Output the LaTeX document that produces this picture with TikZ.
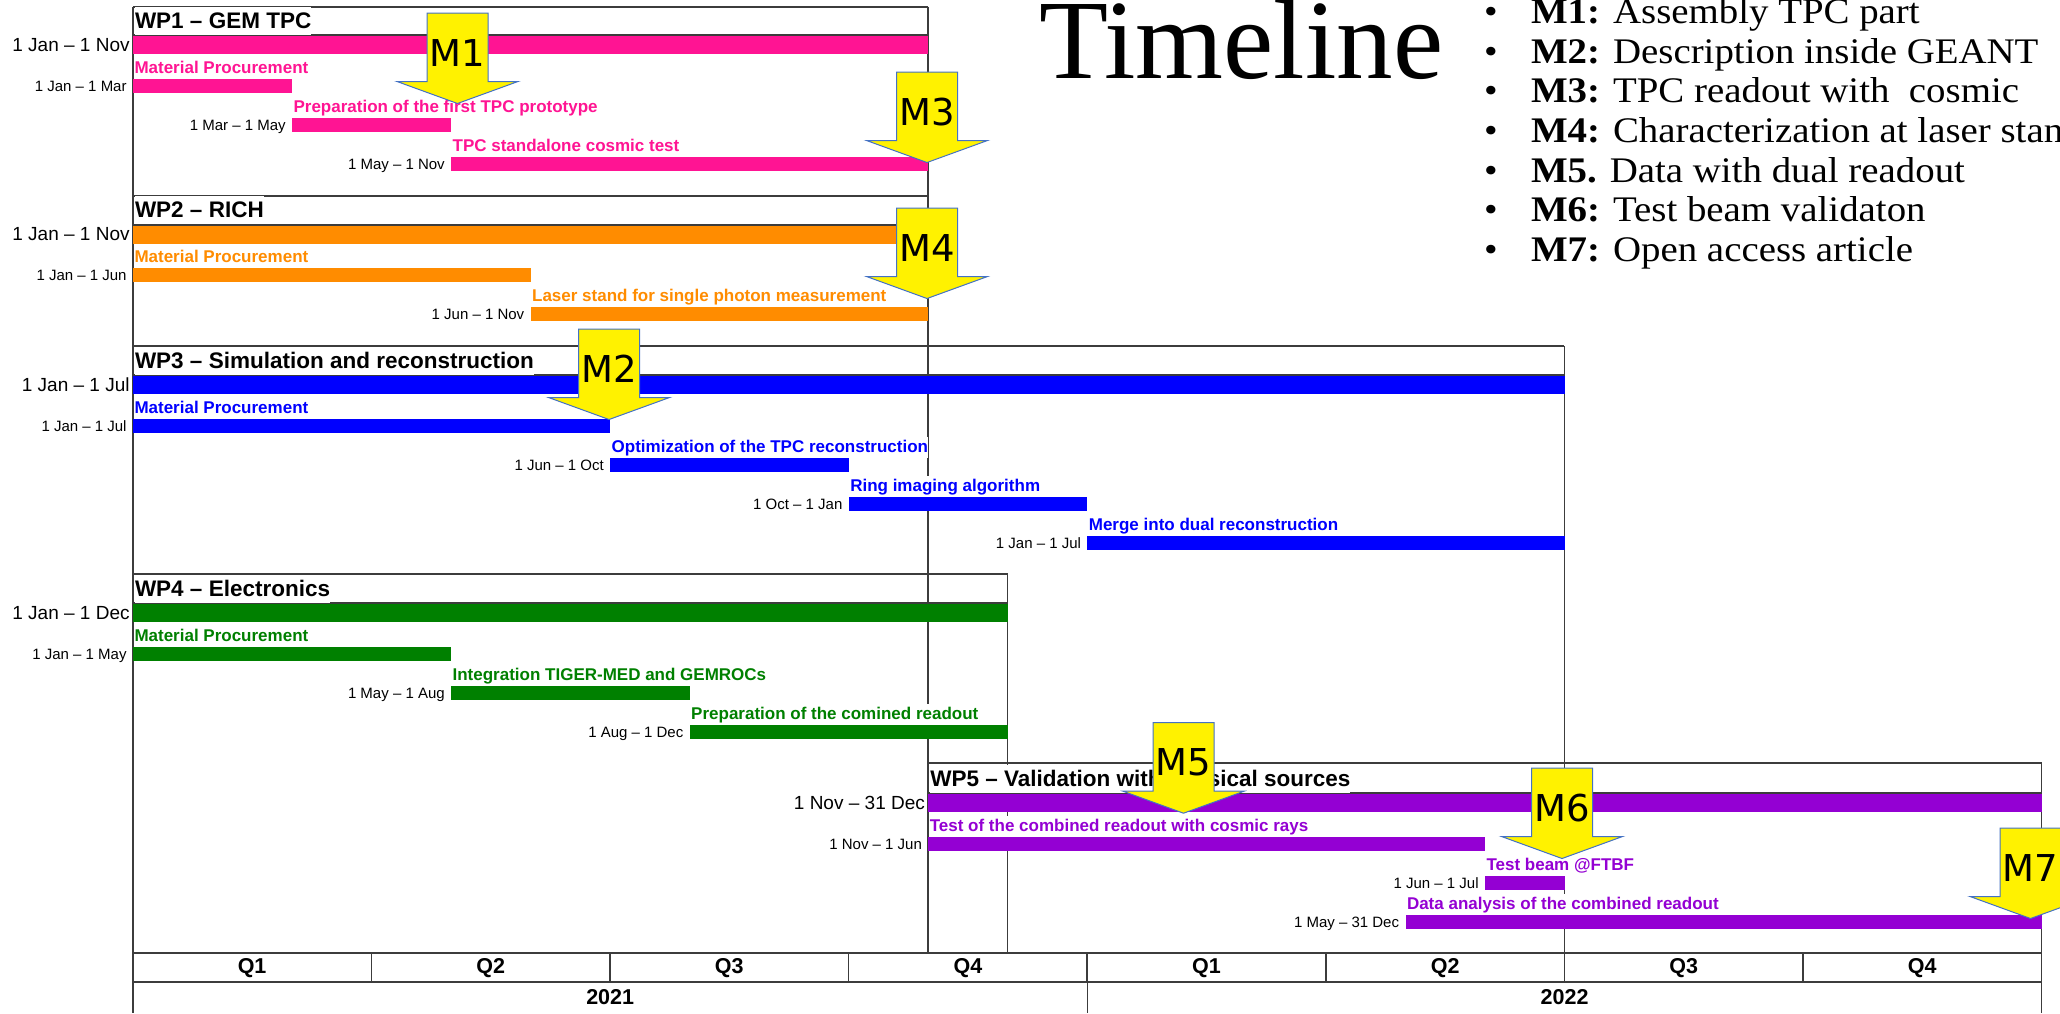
\documentclass[tikz,border=0pt]{standalone}
\usepackage{fontspec}
\setmainfont{Liberation Sans}
\newfontfamily\titlefont{Liberation Serif}
\newfontfamily\listfont[FakeStretch=1.08]{Liberation Serif}
\newfontfamily\msfont{DejaVu Sans}
\usetikzlibrary{positioning}
\definecolor{wpone}{RGB}{255,20,147}
\definecolor{wptwo}{RGB}{255,140,0}
\definecolor{wpthree}{RGB}{0,0,255}
\definecolor{wpfour}{RGB}{0,128,0}
\definecolor{wpfive}{RGB}{148,0,211}
\definecolor{frameline}{RGB}{60,60,60}
\definecolor{arrowline}{RGB}{68,114,196}
\tikzstyle{wpbar}=[inner sep=0pt, minimum height=19pt, anchor=north west]
\tikzstyle{taskbar}=[wpbar, minimum height=14pt]
\tikzstyle{wptitle}=[inner sep=0pt, fill=white, text height=21.6pt, text depth=6.4pt, font=\fontsize{22.5}{25}\selectfont\bfseries]
\tikzstyle{taskname}=[inner xsep=0pt, inner ysep=0pt, fill=white, text height=15pt, text depth=5.5pt, font=\fontsize{17}{20}\selectfont\bfseries]
\tikzstyle{wpdates}=[inner sep=0pt, text depth=0pt, font=\fontsize{19}{22}\selectfont]
\tikzstyle{taskdates}=[wpdates, font=\fontsize{15}{18}\selectfont]
\tikzstyle{frame}=[draw=frameline, line width=2pt]
\tikzstyle{grid}=[draw=frameline, line width=1.5pt]
\tikzstyle{milestone}=[fill=yellow, draw=arrowline, line width=1pt]
\tikzstyle{mlabel}=[inner sep=0pt, font=\msfont\fontsize{37}{40}\selectfont]
\tikzstyle{axislabel}=[inner sep=0pt, font=\fontsize{21.5}{24}\selectfont\bfseries]
\tikzstyle{listitem}=[inner sep=0pt, anchor=base west, font=\listfont\fontsize{36}{40}\selectfont]

\begin{document}
\begin{tikzpicture}[x=1pt, y=-1pt]
    \useasboundingbox (0,0) rectangle (2060,1013);
    \clip (0,0) rectangle (2060,1013);
    % Frame lines of the work packages and of the time axis
    \draw[frame] (132.8,6.7) -- (928.1,6.7) (132.8,195.7) -- (928.1,195.7)
        (132.8,346) -- (1564.4,346) (132.8,574) -- (1007.7,574) (928.1,762.7) -- (2041.6,762.7)
        (132.8,953) -- (2041.6,953) (132.8,982) -- (2041.6,982);
    \draw[grid] (132.8,6.7) -- (132.8,1013) (928.1,6.7) -- (928.1,953)
        (1007.7,574) -- (1007.7,953) (1564.4,346) -- (1564.4,953)
        (2041.6,762.7) -- (2041.6,1013) (1087.5,982) -- (1087.5,1013);
    \foreach \q in {1,...,7}
        \draw[grid] ({132.8+238.6*\q},953) -- ++(0,29);

    % Quarters and years
    \foreach \q [evaluate=\q as \qn using {int(mod(\q,4)+1)}] in {0,...,7}
        \node[axislabel] (q\q) at ({132.8+238.6*(\q+0.5)},968) {Q\qn};
    \node[axislabel] (y2021) at (610.2,997.5) {2021};
    \node[axislabel] (y2022) at (1564.6,997.5) {2022};

    % Work packages: summary bar, title and dates
    \foreach \id/\s/\e/\ty/\col/\dates/\wpname in {
        wp1/0/10/35/wpone/{1 Jan – 1 Nov}/{WP1 – GEM TPC},
        wp2/0/10/224.5/wptwo/{1 Jan – 1 Nov}/{WP2 – RICH},
        wp3/0/18/375/wpthree/{1 Jan – 1 Jul}/{WP3 – Simulation and reconstruction},
        wp4/0/11/603/wpfour/{1 Jan – 1 Dec}/{WP4 – Electronics},
        wp5/10/24/793/wpfive/{1 Nov – 31 Dec}/{WP5 – Validation with physical sources}}
    {
        \node[wpbar, fill=\col, minimum width={79.53*(\e-\s)}] (\id) at ({132.8+79.53*\s},\ty) {};
        \draw[frame] (\id.north west) -- (\id.north east);
        \node[wptitle, above right=0pt and 2pt of \id.north west] (\id-name) {\wpname};
        \node[wpdates, left=3pt of \id] (\id-dates) {\dates};
    }

    % Tasks: bar, name above, dates on the left
    \foreach \id/\s/\e/\ty/\col/\dates/\task in {
        t11/0/2/79/wpone/{1 Jan – 1 Mar}/{Material Procurement},
        t12/2/4/118/wpone/{1 Mar – 1 May}/{Preparation of the first TPC prototype},
        t13/4/10/157/wpone/{1 May – 1 Nov}/{TPC standalone cosmic test},
        t21/0/5/268/wptwo/{1 Jan – 1 Jun}/{Material Procurement},
        t22/5/10/307/wptwo/{1 Jun – 1 Nov}/{Laser stand for single photon measurement},
        t31/0/6/419/wpthree/{1 Jan – 1 Jul}/{Material Procurement},
        t32/6/9/458/wpthree/{1 Jun – 1 Oct}/{Optimization of the TPC reconstruction},
        t33/9/12/497/wpthree/{1 Oct – 1 Jan}/{Ring imaging algorithm},
        t34/12/18/536/wpthree/{1 Jan – 1 Jul}/{Merge into dual reconstruction},
        t41/0/4/647/wpfour/{1 Jan – 1 May}/{Material Procurement},
        t42/4/7/686/wpfour/{1 May – 1 Aug}/{Integration TIGER-MED and GEMROCs},
        t43/7/11/725/wpfour/{1 Aug – 1 Dec}/{Preparation of the comined readout},
        t51/10/17/837/wpfive/{1 Nov – 1 Jun}/{Test of the combined readout with cosmic rays},
        t52/17/18/876/wpfive/{1 Jun – 1 Jul}/{Test beam @FTBF},
        t53/16/24/915/wpfive/{1 May – 31 Dec}/{Data analysis of the combined readout}}
    {
        \node[taskbar, fill=\col, minimum width={79.53*(\e-\s)}] (\id) at ({132.8+79.53*\s},\ty) {};
        \node[taskname, text=\col, above right=0pt and 1.5pt of \id.north west] (\id-name) {\task};
        \node[taskdates, left=6pt of \id] (\id-dates) {\dates};
    }

    % Milestone arrows
    \foreach \name/\cx/\ty in {M1/457.5/13, M2/609/329, M3/927/72, M4/927/208, M5/1183.5/722.7, M6/1562/768, M7/2030.5/828}
    {
        \draw[milestone] (\cx-30.5,\ty) -- (\cx+30.5,\ty) -- (\cx+30.5,\ty+68.5) -- (\cx+60.5,\ty+68.5)
            -- (\cx,\ty+90.5) -- (\cx-60.5,\ty+68.5) -- (\cx-30.5,\ty+68.5) -- cycle;
        \node[mlabel] (\name) at (\cx,\ty+40) {\name};
    }

    % Title and list of milestones
    \node[anchor=base west, inner sep=0pt, font=\titlefont\fontsize{113}{113}\selectfont] (title) at (1039,78) {Timeline};
    \foreach \i/\txt in {1/{\textbf{M1:} Assembly TPC part}, 2/{\textbf{M2:} Description inside GEANT},
        3/{\textbf{M3:} TPC readout with~ cosmic}, 4/{\textbf{M4:} Characterization at laser stand},
        5/{\textbf{M5.} Data with dual readout}, 6/{\textbf{M6:} Test beam validaton},
        7/{\textbf{M7:} Open access article}}
        \node[listitem] (item\i) at (1484,{23.3+39.7*(\i-1)}) {\makebox[46.8pt][l]{•}\txt};
\end{tikzpicture}
\end{document}
